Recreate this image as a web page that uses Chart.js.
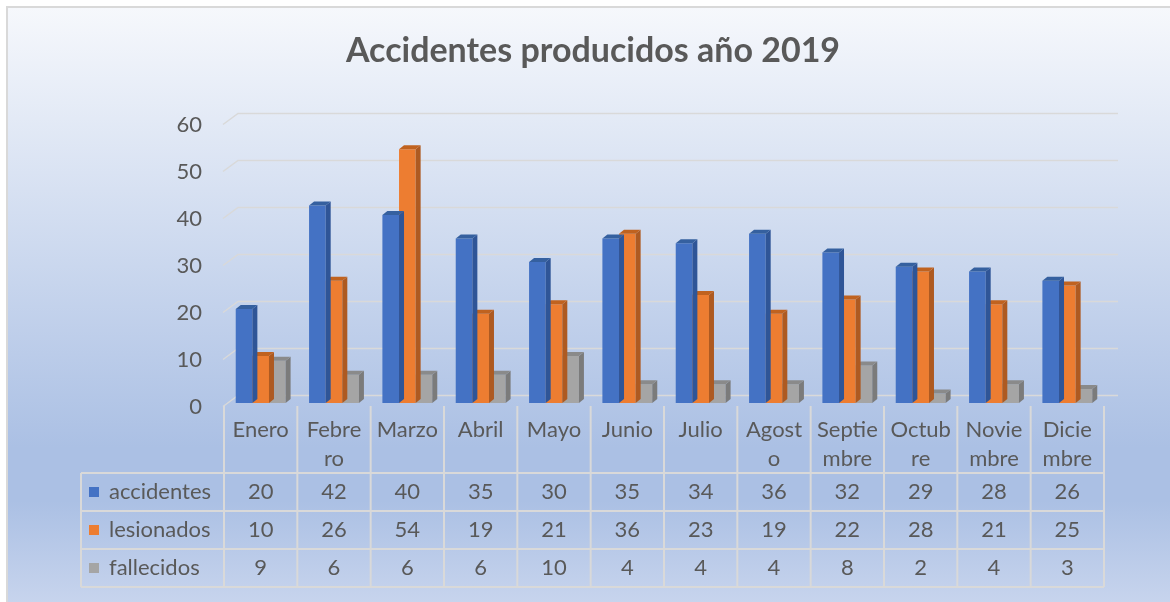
<!DOCTYPE html>
<html lang="es">
<head>
<meta charset="utf-8">
<title>Accidentes producidos año 2019</title>
<script src="https://cdn.jsdelivr.net/npm/chart.js@4.4.0/dist/chart.umd.min.js"></script>
<style>
  html, body { margin: 0; padding: 0; background: #fff; }
  #caja { width: 1170px; height: 602px; }
</style>
</head>
<body>
<div id="caja"><canvas id="grafico" width="1170" height="602"></canvas></div>
<script>
// Datos
const meses = ['Enero', ['Febre', 'ro'], 'Marzo', 'Abril', 'Mayo', 'Junio', 'Julio',
    ['Agost', 'o'], ['Septie', 'mbre'], ['Octub', 're'], ['Novie', 'mbre'], ['Dicie', 'mbre']];
const accidentes = [20, 42, 40, 35, 30, 35, 34, 36, 32, 29, 28, 26];
const lesionados = [10, 26, 54, 19, 21, 36, 23, 19, 22, 28, 21, 25];
const fallecidos = [9, 6, 6, 6, 10, 4, 4, 4, 8, 2, 4, 3];
const nombresSeries = ['accidentes', 'lesionados', 'fallecidos'];
const ticksY = [0, 10, 20, 30, 40, 50, 60];
const titulo = 'Accidentes producidos año 2019';

const colores = ['#4472c4', '#ed7d31', '#a5a5a5'];
const coloresLado = ['#2f5597', '#ae5a21', '#7b7b7b'];
const coloresTecho = ['#35609f', '#c0621f', '#8a8a8a'];
const colorTexto = '#595959';
const colorLinea = '#d9d9d9';
const fuente = 'Lato, "Open Sans", sans-serif';

// Fondo degradado, borde y título
const fondo = {
    id: 'fondo',
    beforeDraw(chart) {
        const ctx = chart.ctx;
        ctx.save();
        ctx.fillStyle = '#fff';
        ctx.fillRect(0, 0, chart.width, chart.height);
        const g = ctx.createLinearGradient(0, 8, 0, chart.height);
        g.addColorStop(0, '#f6f8fc');
        g.addColorStop(0.74, '#abc0e4');
        g.addColorStop(0.83, '#abc0e4');
        g.addColorStop(1, '#c7d4ed');
        ctx.fillStyle = g;
        ctx.fillRect(8, 8, chart.width - 8, chart.height - 8);
        ctx.strokeStyle = colorLinea;
        ctx.lineWidth = 2;
        ctx.beginPath();
        ctx.moveTo(7, chart.height);
        ctx.lineTo(7, 7);
        ctx.lineTo(chart.width, 7);
        ctx.stroke();
        // título centrado sobre todo el gráfico
        ctx.fillStyle = colorTexto;
        ctx.font = 'bold 34px ' + fuente;
        ctx.textAlign = 'center';
        ctx.textBaseline = 'middle';
        ctx.fillText(titulo, 593, 51);
        ctx.restore();
    }
};

// Líneas de división con la pared en perspectiva
const rejilla3d = {
    id: 'rejilla3d',
    beforeDatasetsDraw(chart) {
        const ctx = chart.ctx;
        const area = chart.chartArea;
        const y = chart.scales.y;
        ctx.save();
        ctx.strokeStyle = colorLinea;
        ctx.lineWidth = 1.5;
        ticksY.forEach(v => {
            const py = y.getPixelForValue(v);
            ctx.beginPath();
            ctx.moveTo(area.left - 1, py + 3.5);
            ctx.lineTo(area.left + 14, py - 7.5);
            ctx.lineTo(area.right + 14, py - 7.5);
            ctx.stroke();
        });
        ctx.restore();
    }
};

// Caras laterales y superiores de las columnas
const columnas3d = {
    id: 'columnas3d',
    afterDatasetDraw(chart, args) {
        const ctx = chart.ctx;
        const meta = chart.getDatasetMeta(args.index);
        const dx = 5, dy = -4;
        ctx.save();
        meta.data.forEach(bar => {
            const { x, y, base, width } = bar.getProps(['x', 'y', 'base', 'width'], true);
            const izq = x - width / 2, der = x + width / 2;
            ctx.fillStyle = coloresLado[args.index];
            ctx.beginPath();
            ctx.moveTo(der, y);
            ctx.lineTo(der + dx, y + dy);
            ctx.lineTo(der + dx, base + dy);
            ctx.lineTo(der, base);
            ctx.closePath();
            ctx.fill();
            ctx.fillStyle = coloresTecho[args.index];
            ctx.beginPath();
            ctx.moveTo(izq, y);
            ctx.lineTo(izq + dx, y + dy);
            ctx.lineTo(der + dx, y + dy);
            ctx.lineTo(der, y);
            ctx.closePath();
            ctx.fill();
        });
        ctx.restore();
    }
};

// Tabla de datos bajo el eje
const tablaDatos = {
    id: 'tablaDatos',
    afterDraw(chart) {
        const ctx = chart.ctx;
        const area = chart.chartArea;
        const x = chart.scales.x;
        const anchoCol = (area.right - area.left) / meses.length;
        const filaTop = 473, altoFila = 38, tablaIzq = 81;
        const filaFin = filaTop + altoFila * 3;
        const valores = [accidentes, lesionados, fallecidos];
        ctx.save();
        ctx.strokeStyle = colorLinea;
        ctx.lineWidth = 2;
        ctx.beginPath();
        for (let r = 0; r <= 3; r++) {
            const py = filaTop + r * altoFila;
            ctx.moveTo(tablaIzq, py);
            ctx.lineTo(area.right, py);
        }
        ctx.moveTo(tablaIzq, filaTop);
        ctx.lineTo(tablaIzq, filaFin);
        for (let c = 0; c <= meses.length; c++) {
            const px = area.left + c * anchoCol;
            ctx.moveTo(px, area.bottom + 3);
            ctx.lineTo(px, filaFin);
        }
        ctx.stroke();

        ctx.font = '22px ' + fuente;
        ctx.textBaseline = 'middle';
        valores.forEach((serie, r) => {
            const cy = filaTop + r * altoFila + altoFila / 2;
            ctx.fillStyle = colores[r];
            ctx.fillRect(89, cy - 5, 10, 10);
            ctx.fillStyle = colorTexto;
            ctx.textAlign = 'left';
            ctx.fillText(nombresSeries[r], 109, cy);
            ctx.textAlign = 'center';
            serie.forEach((v, i) => {
                ctx.fillText(String(v), x.getPixelForValue(i), cy);
            });
        });
        ctx.restore();
    }
};

new Chart(document.getElementById('grafico').getContext('2d'), {
    type: 'bar',
    data: {
        labels: meses,
        datasets: [accidentes, lesionados, fallecidos].map((d, i) => ({
            label: nombresSeries[i],
            data: d,
            backgroundColor: colores[i],
            borderWidth: 0,
            categoryPercentage: 0.68,
            barPercentage: 1
        }))
    },
    options: {
        responsive: false,
        animation: false,
        devicePixelRatio: 1,
        layout: { padding: { left: 0, right: 66, top: 121, bottom: 0 } },
        plugins: {
            legend: { display: false },
            tooltip: { enabled: false },
            title: { display: false }
        },
        scales: {
            x: {
                grid: { display: false, drawTicks: false },
                border: { display: false },
                ticks: {
                    color: colorTexto,
                    font: { family: fuente, size: 22, lineHeight: 1.32 },
                    padding: 12,
                    maxRotation: 0,
                    autoSkip: false
                },
                afterFit(s) { s.height = 199; }
            },
            y: {
                min: 0,
                max: 60,
                grid: { display: false, drawTicks: false },
                border: { display: false },
                ticks: {
                    stepSize: 10,
                    color: colorTexto,
                    font: { family: fuente, size: 22 },
                    padding: 22,
                    labelOffset: 4
                },
                afterFit(s) { s.width = 224; }
            }
        }
    },
    plugins: [fondo, rejilla3d, columnas3d, tablaDatos]
});
</script>
</body>
</html>
